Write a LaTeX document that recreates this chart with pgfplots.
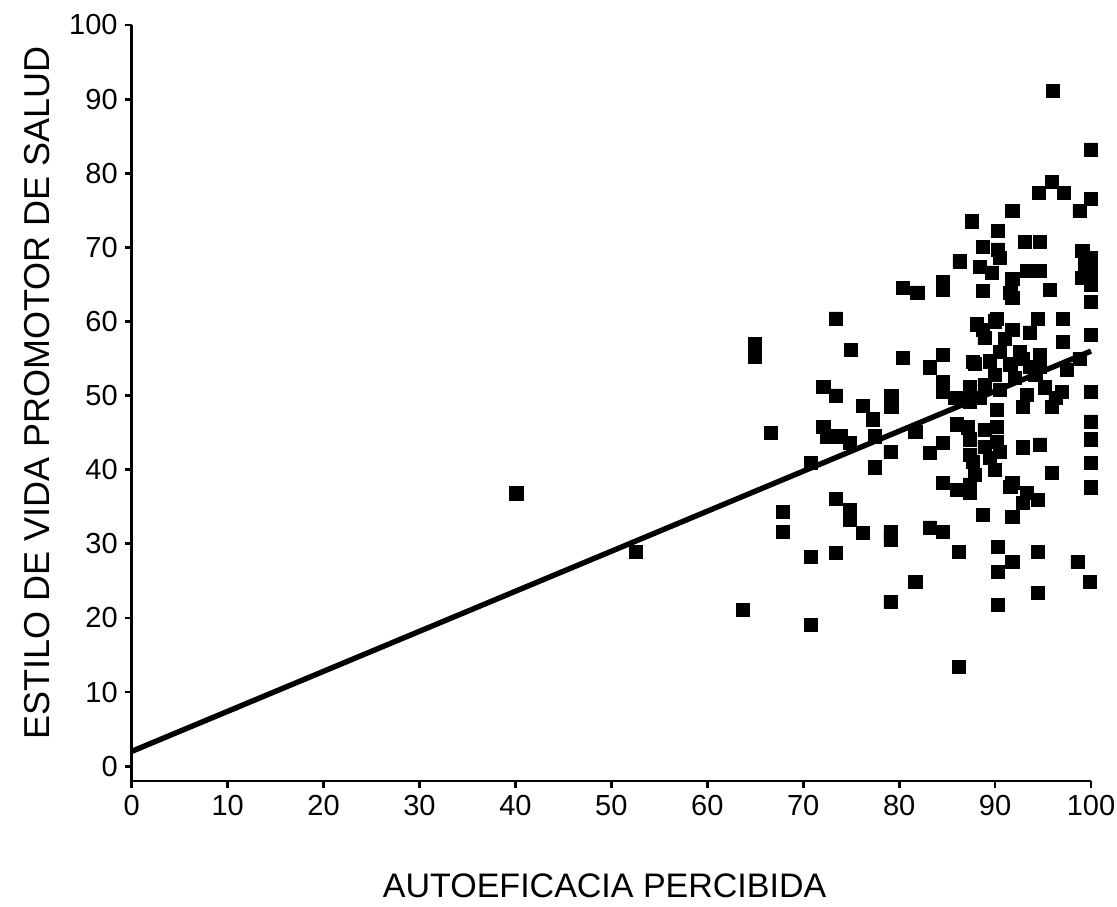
\documentclass[border=0pt]{standalone}
\usepackage{pgfplots}
\pgfplotsset{compat=1.18}
\usepackage{fontspec}
\setmainfont{Liberation Sans}
\pgfdeclareplotmark{rsq}{%
  \pgfsetcornersarced{\pgfqpoint{1.6pt}{1.6pt}}%
  \pgfpathmoveto{\pgfqpoint{0pt}{-\pgfplotmarksize}}%
  \pgfpathlineto{\pgfqpoint{\pgfplotmarksize}{-\pgfplotmarksize}}%
  \pgfpathlineto{\pgfqpoint{\pgfplotmarksize}{\pgfplotmarksize}}%
  \pgfpathlineto{\pgfqpoint{-\pgfplotmarksize}{\pgfplotmarksize}}%
  \pgfpathlineto{\pgfqpoint{-\pgfplotmarksize}{-\pgfplotmarksize}}%
  \pgfpathclose
  \pgfusepathqfillstroke}
\pgfplotstableread{
x y
40.1 36.8
52.6 28.9
63.7 21.1
70.8 19.1
73.4 60.4
65.0 56.9
65.0 55.3
75.0 56.2
72.1 51.2
73.4 50.0
76.2 48.6
66.6 45.0
72.1 45.8
72.5 44.5
73.9 44.5
74.9 43.6
70.8 40.9
73.4 36.1
67.9 34.3
67.9 31.6
74.9 34.6
74.9 33.2
76.2 31.5
70.8 28.2
73.4 28.8
96.0 91.1
100 83.2
95.9 78.8
94.6 77.3
97.2 77.3
100 76.5
98.8 74.9
91.8 74.9
87.6 73.5
90.3 72.2
93.1 70.7
94.7 70.7
88.7 70.1
90.3 69.7
99.1 69.5
100 68.6
99.4 67.7
100 66.8
99.1 65.9
100 65.0
86.3 68.1
88.4 67.4
89.7 66.6
91.8 65.7
90.5 68.6
93.3 66.8
94.7 66.8
80.4 64.5
81.9 63.9
84.6 65.3
84.6 64.3
95.7 64.3
88.7 64.1
91.6 63.9
91.8 63.2
100 62.6
90.2 60.3
88.7 58.9
94.5 60.3
97.1 60.3
100 58.2
97.1 57.2
80.4 55.1
84.6 55.5
83.2 53.8
87.7 54.5
92.9 54.9
94.7 53.9
98.8 54.9
97.5 53.5
79.2 49.9
79.2 48.5
77.3 46.8
77.5 44.5
79.1 42.4
77.5 40.3
81.7 45.1
84.6 51.8
84.6 50.5
86.3 49.7
84.6 43.6
83.2 42.3
88.1 59.6
90.0 60.0
91.8 58.9
93.6 58.5
88.9 57.8
91.0 57.6
90.5 55.9
92.6 55.9
94.7 55.5
87.9 54.3
89.5 54.6
91.6 54.2
93.6 53.9
90.0 52.8
92.1 52.4
94.2 52.8
87.4 51.1
88.9 51.4
90.5 50.8
85.8 49.7
87.4 49.2
88.4 49.7
93.3 50.1
95.2 51.1
96.3 49.7
97.0 50.5
95.9 48.5
92.9 48.5
90.2 48.1
86.0 46.1
87.2 45.7
88.9 45.4
90.2 45.8
87.4 44.1
88.9 43.1
90.2 43.8
92.9 43.0
94.7 43.4
87.7 41.1
95.9 39.6
100 50.5
100 46.5
100 44.1
100 40.9
100 37.6
84.6 38.2
87.4 38.0
86.0 37.3
91.8 38.2
93.3 36.9
87.4 42.0
89.5 41.6
90.5 42.4
87.9 39.3
90.0 40.0
87.4 36.9
91.6 37.7
92.9 35.5
94.5 35.9
91.8 33.6
88.7 33.9
79.1 31.6
79.1 30.5
83.2 32.2
84.6 31.6
86.2 28.9
90.3 29.6
91.8 27.6
90.3 26.2
94.5 28.9
98.6 27.6
99.9 24.9
81.7 24.9
79.1 22.2
90.3 21.8
94.5 23.4
86.2 13.4
}\scatterdata
\pgfplotstableread{
x y
0 2
100 56
}\fitline
\begin{document}
\begin{tikzpicture}
\useasboundingbox (-65.85pt,-62.5pt) rectangle (492.65pt,390.5pt);
\begin{axis}[
  at={(0pt,0pt)}, anchor=south west,
  scale only axis,
  width=479.65pt, height=378pt,
  xmin=0, xmax=100, ymin=-2, ymax=100,
  axis lines=left,
  axis line style={-, line width=1.2pt, black},
  xtick={0,10,...,100}, ytick={0,10,...,100},
  tick align=outside,
  major tick length=3.5pt,
  tick style={line width=1.4pt, black},
  /pgf/number format/assume math mode=true,
  ticklabel style={font=\fontsize{14.5}{17}\selectfont},
  xlabel={AUTOEFICACIA PERCIBIDA},
  ylabel={ESTILO DE VIDA PROMOTOR DE SALUD},
  xlabel style={at={(axis description cs:0.493,-0.139)}, anchor=center, font=\fontsize{17}{20}\selectfont},
  ylabel style={at={(axis description cs:-0.099,0.513)}, anchor=center, font=\fontsize{18}{21}\selectfont},
  clip=false,
]
\addplot[only marks, mark=rsq, mark size=3.3pt, mark options={fill=black, draw=black, line width=0.4pt}] table[x=x,y=y] {\scatterdata};
\addplot[black, line width=2.7pt, no marks] table[x=x,y=y] {\fitline};
\end{axis}
\end{tikzpicture}
\end{document}
